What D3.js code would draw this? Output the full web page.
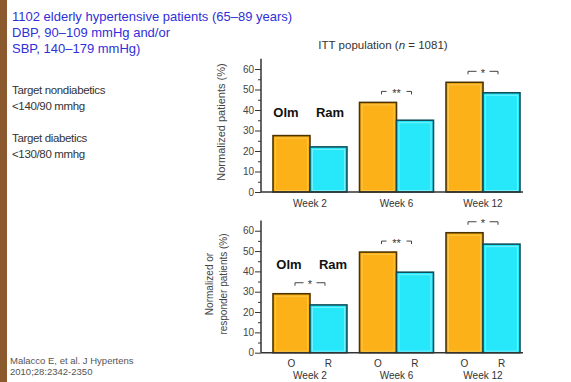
<!DOCTYPE html>
<html>
<head>
<meta charset="utf-8">
<script src="https://cdn.jsdelivr.net/npm/d3@7"></script>
<style>
  body { margin: 0; background: #fff; }
  svg { display: block; font-family: "Liberation Sans", Arial, sans-serif; }
</style>
</head>
<body>
<svg id="chart" width="571" height="382"></svg>
<script>
// --- data ---
const weeks = ['Week 2', 'Week 6', 'Week 12'];
const series = ['Olm', 'Ram'];
const ittOlm = [27.5, 43.7, 53.5];
const ittRam = [22, 35, 48.4];
const respOlm = [29, 49.5, 59];
const respRam = [23.5, 39.6, 53.4];
const ittSig = ['', '**', '*'];
const respSig = ['*', '**', '*'];
const yTicks = d3.range(0, 61, 5);

const introLines = ['1102 elderly hypertensive patients (65\u201389 years)', 'DBP, 90\u2013109 mmHg  and/or', 'SBP, 140\u2013179 mmHg)'];
const targetLines = ['Target nondiabetics', '<140/90 mmhg', '', 'Target diabetics', '<130/80 mmhg'];
const refLines = ['Malacco E, et al. J Hypertens', '2010;28:2342-2350'];

const colors = { Olm: '#fbb117', Ram: '#27e8fb' };
const edge = { Olm: '#4a3300', Ram: '#0d4f5a' };
const inner = { Olm: '#ffcc55', Ram: '#8af4ff' };

const svg = d3.select('#chart');

// left brown strip
svg.append('rect').attr('x', 0).attr('y', 0).attr('width', 7).attr('height', 382).attr('fill', '#8a5a2e');

// side texts
svg.append('g').selectAll('text').data(introLines).join('text')
    .attr('x', 12).attr('y', (d, i) => 21 + i * 16)
    .attr('font-size', 13).attr('fill', '#3030d8')
    .text(d => d);

svg.append('g').selectAll('text').data(targetLines).join('text')
    .attr('x', 12).attr('y', (d, i) => 94 + i * 16)
    .attr('font-size', 11.5).attr('letter-spacing', -0.35).attr('fill', '#333')
    .text(d => d);

svg.append('g').selectAll('text').data(refLines).join('text')
    .attr('x', 10).attr('y', (d, i) => 364 + i * 11)
    .attr('font-size', 9.5).attr('fill', '#555')
    .text(d => d);

// title of upper panel
const t = svg.append('text').attr('x', 383).attr('y', 49)
    .attr('text-anchor', 'middle').attr('font-size', 11.5).attr('fill', '#333');
t.append('tspan').text('ITT population (');
t.append('tspan').attr('font-style', 'italic').text('n');
t.append('tspan').text(' = 1081)');

const x = d3.scaleBand().domain(weeks).range([273, 520]).paddingInner(0.145).paddingOuter(0);
const xs = d3.scaleBand().domain(series).range([0, x.bandwidth()]);

function drawPanel(cfg) {
    const y = d3.scaleLinear().domain([0, 65]).range([cfg.y0, cfg.y0 - 65 * cfg.unit]);
    const g = svg.append('g');

    // y axis
    const ax = g.append('g').attr('transform', `translate(261,0)`)
        .call(d3.axisLeft(y).tickValues(yTicks).tickSize(6).tickPadding(1)
            .tickFormat(d => d % 10 === 0 ? d : ''));
    ax.select('.domain').attr('d', `M0,${y(65)}V${y(0)}`).attr('stroke', '#333').attr('stroke-width', 1.5);
    ax.selectAll('.tick line').attr('stroke', '#333')
        .attr('x2', d => d % 10 === 0 ? -6 : -3);
    ax.selectAll('.tick text').attr('font-size', 10).attr('fill', '#444')
        .attr('font-family', '"Liberation Sans", Arial, sans-serif');

    // y label
    const lab = g.append('text').attr('transform', `translate(${cfg.labX},${cfg.labY}) rotate(-90)`)
        .attr('text-anchor', 'middle').attr('font-size', cfg.labSize).attr('fill', '#444');
    cfg.yLabel.forEach((l, i) => lab.append('tspan').attr('x', 0).attr('dy', i === 0 ? 0 : 14).text(l));

    // bars
    const rows = weeks.map((w, i) => ({ week: w, vals: [
        { s: 'Olm', v: cfg.olm[i] }, { s: 'Ram', v: cfg.ram[i] }] }));
    const grp = g.selectAll('.grp').data(rows).join('g')
        .attr('transform', d => `translate(${x(d.week)},0)`);
    const bar = grp.selectAll('.bar').data(d => d.vals).join('g');
    bar.append('rect')
        .attr('x', d => xs(d.s)).attr('y', d => y(d.v))
        .attr('width', xs.bandwidth()).attr('height', d => y(0) - y(d.v))
        .attr('fill', d => colors[d.s]).attr('stroke', d => edge[d.s]).attr('stroke-width', 1.6);
    bar.append('rect')
        .attr('x', d => xs(d.s) + 2.5).attr('y', d => y(d.v) + 2.5)
        .attr('width', xs.bandwidth() - 5).attr('height', d => y(0) - y(d.v) - 4)
        .attr('fill', 'none').attr('stroke', d => inner[d.s]).attr('stroke-width', 1).attr('opacity', 0.8);

    // x axis line
    g.append('line').attr('x1', 261).attr('x2', 523).attr('y1', y(0)).attr('y2', y(0))
        .attr('stroke', '#333').attr('stroke-width', 1.5);

    // series labels
    g.selectAll('.sl').data(series).join('text')
        .attr('x', (d, i) => cfg.serX[i]).attr('y', cfg.serY)
        .attr('text-anchor', 'middle').attr('font-size', 13).attr('font-weight', 'bold').attr('fill', '#111')
        .text(d => d);

    // significance brackets
    weeks.forEach((w, i) => {
        const s = cfg.sig[i];
        if (!s) return;
        const top = y(Math.max(cfg.olm[i], cfg.ram[i])) - 11;
        const cx = x(w) + x.bandwidth() / 2;
        const x1 = cx - 15, x2 = cx + 15, gap = s.length * 3.5 + 3;
        g.append('path')
            .attr('d', `M${x1},${top + 3}V${top}H${cx - gap}M${cx + gap},${top}H${x2}V${top + 3}`)
            .attr('fill', 'none').attr('stroke', '#444').attr('stroke-width', 1);
        g.append('text').attr('x', cx).attr('y', top + 5.5)
            .attr('text-anchor', 'middle').attr('font-size', 11).attr('fill', '#333').text(s);
    });

    // x labels
    if (cfg.showOR) {
        grp.selectAll('.or').data(series).join('text')
            .attr('x', d => xs(d) + xs.bandwidth() / 2).attr('y', y(0) + 14)
            .attr('text-anchor', 'middle').attr('font-size', 10).attr('fill', '#333')
            .text(d => d[0]);
    }
    g.selectAll('.wl').data(weeks).join('text')
        .attr('x', d => x(d) + x.bandwidth() / 2).attr('y', y(0) + cfg.weekDy)
        .attr('text-anchor', 'middle').attr('font-size', 10).attr('fill', '#333')
        .text(d => d);
}

drawPanel({
    y0: 192, unit: 2.05, olm: ittOlm, ram: ittRam, sig: ittSig,
    yLabel: ['Normalized patients (%)'], labX: 225, labY: 122, labSize: 11,
    serX: [286, 330], serY: 117, showOR: false, weekDy: 15
});

drawPanel({
    y0: 352.7, unit: 2.033, olm: respOlm, ram: respRam, sig: respSig,
    yLabel: ['Normalized or', 'responder patients (%)'], labX: 213, labY: 284, labSize: 10,
    serX: [289, 333], serY: 269, showOR: true, weekDy: 26
});
</script>
</body>
</html>
